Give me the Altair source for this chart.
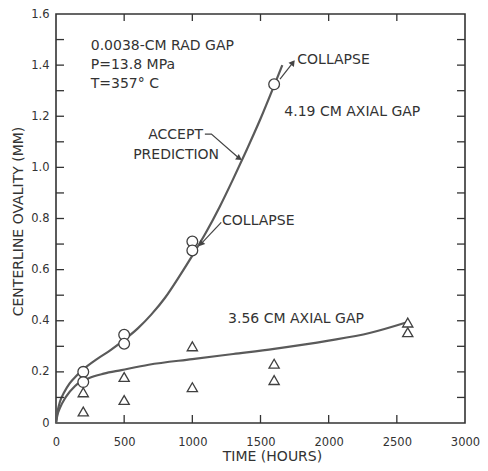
import altair as alt
import pandas as pd

# ---------------- data ----------------
# measured points, 4.19 cm axial gap (open circles)
circ_t = [200, 200, 500, 500, 1000, 1000, 1600]
circ_v = [0.20, 0.16, 0.345, 0.31, 0.71, 0.675, 1.325]

# measured points, 3.56 cm axial gap (open triangles)
tri_t = [200, 200, 500, 500, 1000, 1000, 1600, 1600, 2580, 2580]
tri_v = [0.12, 0.045, 0.18, 0.09, 0.30, 0.14, 0.232, 0.168, 0.393, 0.355]

# ACCEPT prediction curve, 4.19 cm axial gap
up_t = [0, 10, 30, 60, 100, 150, 200, 300, 400, 500, 600, 700, 800, 900,
        1000, 1100, 1200, 1300, 1400, 1500, 1600, 1660]
up_v = [0, 0.04, 0.085, 0.12, 0.155, 0.185, 0.21, 0.25, 0.285, 0.325, 0.37,
        0.425, 0.49, 0.57, 0.655, 0.745, 0.845, 0.955, 1.07, 1.19, 1.32, 1.40]

# prediction curve, 3.56 cm axial gap
lo_t = [0, 10, 30, 70, 140, 240, 350, 480, 680, 1000, 1300, 1600, 2000, 2300, 2580]
lo_v = [0, 0.03, 0.06, 0.10, 0.145, 0.175, 0.193, 0.207, 0.228, 0.25, 0.27,
        0.29, 0.322, 0.352, 0.395]

# axis ticks
x_labels = [0, 500, 1000, 1500, 2000, 2500, 3000]
y_labels = [0, 0.2, 0.4, 0.6, 0.8, 1.0, 1.2, 1.4, 1.6]
x_ticks = [500, 1000, 1500, 2000, 2500]
y_ticks = [0.1, 0.2, 0.3, 0.4, 0.5, 0.6, 0.7, 0.8, 0.9, 1.0, 1.1, 1.2, 1.3, 1.4, 1.5]

# annotation texts (data coordinates)
left_text = ["0.0038-CM RAD GAP", "P=13.8 MPa", "T=357° C", "COLLAPSE",
             "4.19 CM AXIAL GAP", "COLLAPSE", "3.56 CM AXIAL GAP"]
left_t = [255, 255, 255, 1770, 1675, 1218, 1262]
left_v = [1.475, 1.40, 1.325, 1.422, 1.218, 0.792, 0.408]

right_text = ["ACCEPT", "PREDICTION"]
right_t = [1078, 1196]
right_v = [1.125, 1.05]

# arrows (polyline points) and their heads
arrow_id = ["a", "a", "a", "b", "b", "c", "c"]
arrow_t = [1092, 1140, 1345, 1643, 1745, 1212, 1062]
arrow_v = [1.13, 1.13, 1.035, 1.345, 1.415, 0.785, 0.70]
head_t = [1345, 1738, 1062]
head_v = [1.035, 1.41, 0.70]
head_angle = [124, 37, 221]

# ---------------- chart ----------------
W, H = 409, 409
FONT = "DejaVu Sans"
INK = "#333333"
LINE = "#5a5a5a"

xs = alt.Scale(domain=[0, 3000], nice=False, zero=False)
ys = alt.Scale(domain=[0, 1.6], nice=False, zero=False)

x_axis = alt.Axis(values=x_labels, ticks=False, domain=False, grid=False,
                  labelPadding=13, labelFlush=False, labelOverlap=False,
                  labelExpr="format(datum.value, 'd')",
                  labelFont=FONT, labelFontSize=11.5, labelColor=INK,
                  title="TIME (HOURS)", titleFont=FONT, titleFontSize=14,
                  titleFontWeight="normal", titleColor=INK,
                  titleX=216, titleY=33, titleBaseline="middle")
y_axis = alt.Axis(values=y_labels, ticks=False, domain=False, grid=False,
                  labelPadding=7, labelFlush=False, labelOverlap=False,
                  labelExpr="datum.value == 0 ? '0' : format(datum.value, '.1f')",
                  labelFont=FONT, labelFontSize=11.5, labelColor=INK,
                  title="CENTERLINE OVALITY (MM)", titleFont=FONT, titleFontSize=14,
                  titleFontWeight="normal", titleColor=INK,
                  titleX=-38, titleY=207, titleAlign="center", titleBaseline="middle",
                  titleAngle=-90)


def X(field="t"):
    return alt.X(f"{field}:Q", scale=xs, axis=x_axis)


def Y(field="v"):
    return alt.Y(f"{field}:Q", scale=ys, axis=y_axis)


curves = pd.DataFrame({
    "t": up_t + lo_t,
    "v": up_v + lo_v,
    "c": ["up"] * len(up_t) + ["lo"] * len(lo_t),
})

lines = alt.Chart(curves).mark_line(
    interpolate="monotone", color=LINE, strokeWidth=2.2
).encode(x=X(), y=Y(), detail="c:N")

circles = alt.Chart(pd.DataFrame({"t": circ_t, "v": circ_v})).mark_point(
    shape="circle", size=115, fill="white", fillOpacity=1, stroke="#404040",
    strokeWidth=1.3, opacity=1
).encode(x=X(), y=Y())

tris = alt.Chart(pd.DataFrame({"t": tri_t, "v": tri_v})).mark_point(
    shape="triangle-up", size=105, fill="white", fillOpacity=1, stroke="#404040",
    strokeWidth=1.3, opacity=1
).encode(x=X(), y=Y())

# inward tick marks on all four sides
xt = pd.DataFrame({"t": x_ticks})
yt = pd.DataFrame({"v": y_ticks})
tick_style = dict(color="#333333", strokeWidth=1.3)
xt_bottom = alt.Chart(xt).mark_rule(**tick_style).encode(
    x=X(), y=alt.value(H), y2=alt.value(H - 8))
xt_top = alt.Chart(xt).mark_rule(**tick_style).encode(
    x=X(), y=alt.value(0), y2=alt.value(7))
yt_left = alt.Chart(yt).mark_rule(**tick_style).encode(
    y=Y(), x=alt.value(0), x2=alt.value(8))
yt_right = alt.Chart(yt).mark_rule(**tick_style).encode(
    y=Y(), x=alt.value(W - 8), x2=alt.value(W))

txt_left = alt.Chart(pd.DataFrame({"t": left_t, "v": left_v, "s": left_text})).mark_text(
    align="left", baseline="middle", font=FONT, fontSize=14, color=INK
).encode(x=X(), y=Y(), text="s:N")

txt_right = alt.Chart(pd.DataFrame({"t": right_t, "v": right_v, "s": right_text})).mark_text(
    align="right", baseline="middle", font=FONT, fontSize=14, color=INK
).encode(x=X(), y=Y(), text="s:N")

arrows = alt.Chart(pd.DataFrame({"t": arrow_t, "v": arrow_v, "id": arrow_id,
                                 "o": list(range(len(arrow_t)))})).mark_line(
    color="#444444", strokeWidth=1.2
).encode(x=X(), y=Y(), detail="id:N", order="o:Q")

heads = alt.Chart(pd.DataFrame({"t": head_t, "v": head_v, "a": head_angle})).mark_point(
    shape="triangle-up", size=45, filled=True, color="#444444", opacity=1
).encode(x=X(), y=Y(), angle=alt.Angle("a:Q", scale=None))

chart = alt.layer(
    lines, arrows, heads, circles, tris, xt_bottom, xt_top, yt_left, yt_right,
    txt_left, txt_right
).properties(
    width=W, height=H,
    autosize=alt.AutoSizeParams(type="none"),
    padding={"left": 48, "top": 6, "right": 15, "bottom": 40},
    background="white",
).configure_view(stroke="#333333", strokeWidth=1.6)

chart.save("out.html", embed_options={"renderer": "svg", "actions": False})
